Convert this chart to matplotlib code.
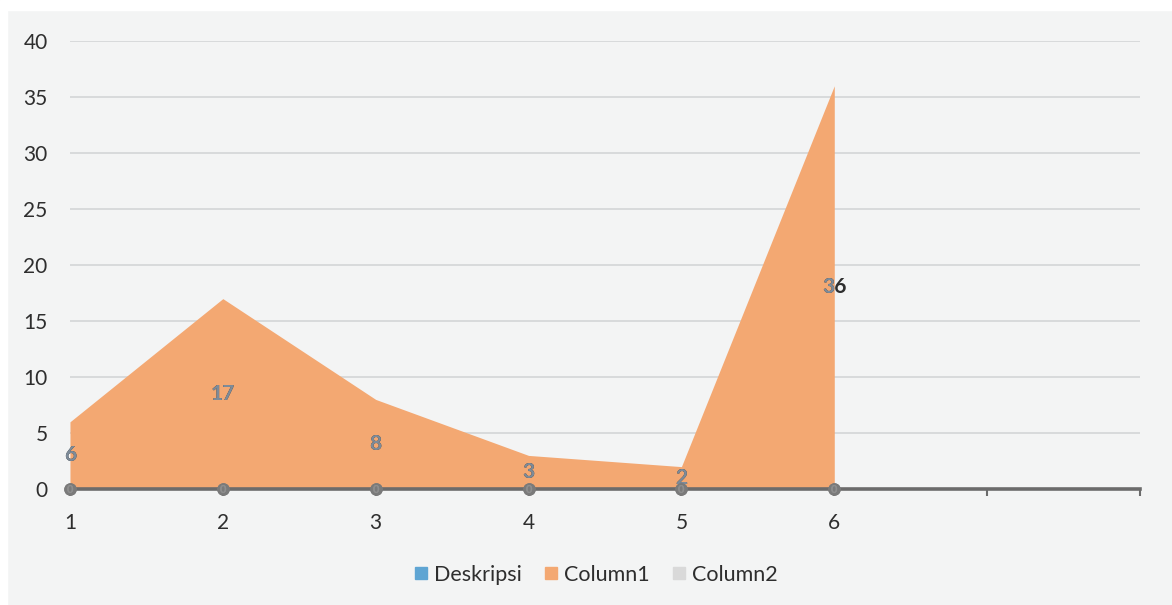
import matplotlib.pyplot as plt
from matplotlib.patches import Rectangle
from matplotlib.transforms import Bbox, TransformedBbox
import numpy as np

plt.rcParams['font.family'] = ['Lato', 'DejaVu Sans']

categories = ['1', '2', '3', '4', '5', '6', '', '']
deskripsi = [0, 0, 0, 0, 0, 0]
column1 = [6, 17, 8, 3, 2, 36]
column2 = [0, 0, 0, 0, 0, 0]
y_ticks = [0, 5, 10, 15, 20, 25, 30, 35, 40]

c_blue = '#5fa5d3'
c_orange = '#f3a872'
c_grey = '#d9d9d9'
label_grey = '#7d8b99'
text_dark = '#2e2e2e'

fig = plt.figure(figsize=(11.72, 6.05), dpi=100, facecolor='#f3f4f4')
# white paper margin around the chart area
fig.patches.append(Rectangle((0, 1 - 10 / 605), 1, 10 / 605, transform=fig.transFigure,
                             color='white', zorder=0))
fig.patches.append(Rectangle((0, 0), 7 / 1172, 1, transform=fig.transFigure,
                             color='white', zorder=0))

ax = fig.add_axes([0.0597, 0.1917, 0.9130, 0.7405])
ax.set_facecolor('none')

x = np.arange(len(column1))
ax.fill_between(x, deskripsi, color=c_blue, lw=0, label='Deskripsi', zorder=2)
area = ax.fill_between(x, column1, color=c_orange, lw=0, label='Column1', zorder=2)
ax.fill_between(x, column2, color=c_grey, lw=0, label='Column2', zorder=2)

ax.set_xlim(0, len(categories) - 1)
ax.set_ylim(0, 40)
ax.set_yticks(y_ticks)
ax.set_xticks(np.arange(len(categories)))
ax.set_xticklabels(categories)

for yv in y_ticks[1:]:
    ax.axhline(yv, color='#d3d5d6', lw=1.2, zorder=1)

for s in ['top', 'right', 'left']:
    ax.spines[s].set_visible(False)
ax.spines['bottom'].set_color('#6b6b6b')
ax.spines['bottom'].set_linewidth(2.6)
ax.spines['bottom'].set_zorder(4)

ax.tick_params(axis='y', length=0, labelsize=15, labelcolor=text_dark, pad=16)
ax.tick_params(axis='x', length=5, width=1.5, color='#6b6b6b', labelsize=15,
               labelcolor=text_dark, pad=12)

# value labels for Column1, centred vertically; grey where they sit on the area
area_box = TransformedBbox(Bbox([[-1, 0], [len(column1) - 1, 45]]), ax.transData)
for xi, v in zip(x, column1):
    ax.text(xi, v / 2, str(v), ha='center', va='center', fontsize=15,
            fontweight='bold', color=text_dark, zorder=5)
    t_grey = ax.text(xi, v / 2, str(v), ha='center', va='center', fontsize=15,
                     fontweight='bold', color=label_grey, zorder=6, clip_on=True)
    t_grey.set_clip_box(area_box)

# zero-value labels of the flat series sitting on the baseline
for series in (deskripsi, column2):
    for xi, v in zip(x, series):
        ax.plot(xi, v, 'o', ms=8, color='#7a7a7a', zorder=6, clip_on=False)
        ax.text(xi, v, str(v), ha='center', va='center', fontsize=8,
                fontweight='bold', color='#8e8e8e', zorder=7, clip_on=False)

handles = [plt.Line2D([], [], marker='s', ls='', ms=9, color=c)
           for c in (c_blue, c_orange, c_grey)]
fig.legend(handles, ['Deskripsi', 'Column1', 'Column2'], loc='center',
           bbox_to_anchor=(0.508, 0.05), ncol=3, frameon=False, fontsize=15.5,
           handlelength=0.7, handletextpad=0.25, columnspacing=1.0,
           labelcolor=text_dark)

fig.savefig('out.png', dpi=100, facecolor=fig.get_facecolor())
